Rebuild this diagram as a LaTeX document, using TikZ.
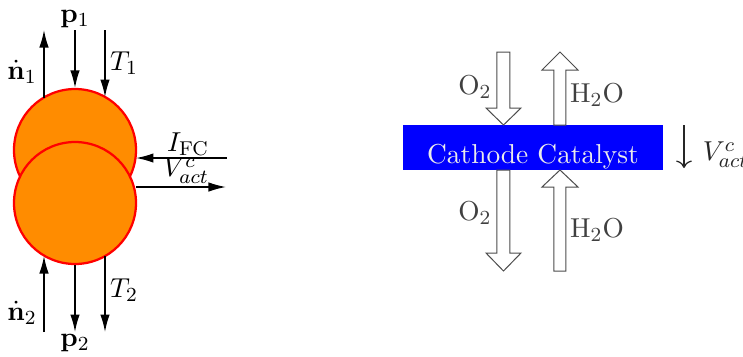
\documentclass[tikz,border=0pt]{standalone}
\usetikzlibrary{arrows.meta}
\definecolor{ballorange}{RGB}{255,140,0}
\begin{document}
\begin{tikzpicture}[x=0.4pt,y=-0.4pt,
  font=\fontsize{10.95}{13}\selectfont,
  flow/.style={line width=0.6pt,-{Latex[length=7pt,width=3.8pt]}},
  ball/.style={draw=red,line width=0.9pt,fill=ballorange},
  fat/.style={draw=black!70,fill=white,line width=0.4pt,line join=miter},
  glabel/.style={text=black!75}]
\useasboundingbox (0,0) rectangle (743,356);
% left: cells
\node[ball,circle,minimum size=48.8pt,inner sep=0pt] (c1) at (75,150) {};
\node[ball,circle,minimum size=48.8pt,inner sep=0pt] (c2) at (75,203) {};
% coordinates for arrow ends
\coordinate (n1t) at (44,30);  \coordinate (n1b) at (44,97.5);
\coordinate (p1t) at (75,30);
\coordinate (T1t) at (105,30); \coordinate (T1b) at (105,97);
\coordinate (n2b) at (44,332); \coordinate (n2t) at (44,256);
\coordinate (p2b) at (75,332);
\coordinate (T2b) at (105,332); \coordinate (T2t) at (105,256);
\coordinate (Ie) at (227,158); \coordinate (Is) at (136,158);
\coordinate (Vs) at (136,187); \coordinate (Ve) at (226,187);
\draw[flow] (n1b) -- (n1t);
\draw[flow] (p1t) -- (c1.north);
\draw[flow] (T1t) -- (T1b);
\draw[flow] (n2b) -- (n2t);
\draw[flow] (c2.south) -- (p2b);
\draw[flow] (T2t) -- (T2b);
\draw[flow] (Ie) -- (Is);
\draw[flow] (Vs) -- (Ve);
\node (ln1) at (22,72) {$\dot{\mathbf{n}}_1$};
\node (lp1) at (75,19) {$\mathbf{p}_1$};
\node (lT1) at (124,63) {$T_1$};
\node (ln2) at (22,313) {$\dot{\mathbf{n}}_2$};
\node (lp2) at (75,343) {$\mathbf{p}_2$};
\node (lT2) at (124,290) {$T_2$};
\node (lI) at (188,144) {$I_{\mathrm{FC}}$};
\node (lV) at (186,171) {$V_{act}^{c}$};
% right: catalyst
\fill[blue] (403,125) rectangle (663,170);
\node[text=white!92!black] (cat) at (533,157) {Cathode Catalyst};
% fat arrows
\draw[fat] (497,52) -- (510,52) -- (510,108) -- (521,108) -- (503.5,125) -- (486,108) -- (497,108) -- cycle;
\draw[fat] (554,125) -- (566,125) -- (566,70) -- (578,70) -- (560,52) -- (542,70) -- (554,70) -- cycle;
\draw[fat] (497,170) -- (510,170) -- (510,253) -- (521,253) -- (503.5,271) -- (486,253) -- (497,253) -- cycle;
\draw[fat] (554,271) -- (566,271) -- (566,187) -- (578,187) -- (560,170) -- (542,187) -- (554,187) -- cycle;
\node[glabel] (o2a) at (475,87) {O$_2$};
\node[glabel] (h2a) at (597,95) {H$_2$O};
\node[glabel] (o2b) at (475,213) {O$_2$};
\node[glabel] (h2b) at (597,230) {H$_2$O};
\coordinate (Vrt) at (684,125); \coordinate (Vrb) at (684,168);
\draw[black!85,line width=0.5pt,-{To[length=3pt]}] (Vrt) -- (Vrb);
\node[anchor=west,text=black!85] (lVr) at (694,155) {$V_{act}^{c}$};
\end{tikzpicture}
\end{document}
